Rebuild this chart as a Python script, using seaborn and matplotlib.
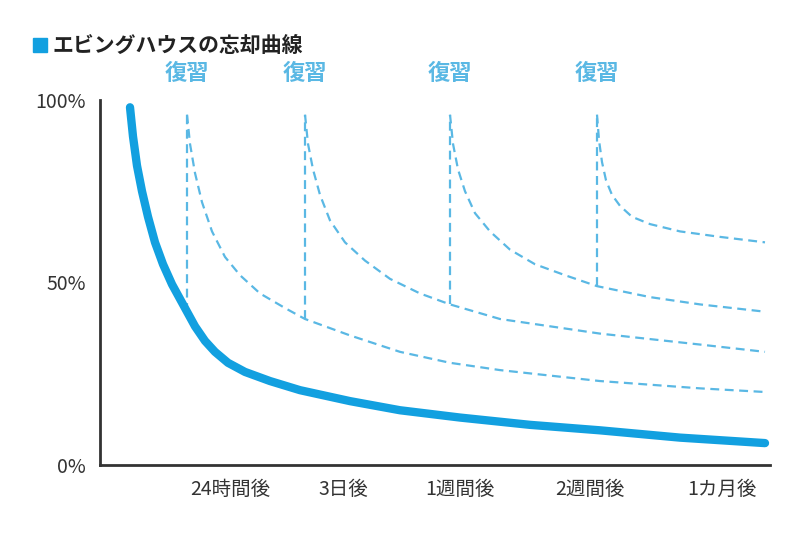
import matplotlib
matplotlib.use("Agg")
import matplotlib.pyplot as plt
import seaborn as sns

plt.rcParams["font.family"] = "Noto Sans CJK JP"

title = "エビングハウスの忘却曲線"
y_ticks = [0, 50, 100]
y_labels = ["0%", "50%", "100%"]
x_ticks = [230, 343, 460, 590, 722]
x_labels = ["24時間後", "3日後", "1週間後", "2週間後", "1カ月後"]

main_x = [130, 133, 137, 142, 148, 155, 163, 172, 180, 187, 195, 205, 215, 228, 245, 270, 300, 350, 400, 460, 530, 600, 680, 765]
main_y = [98, 90, 82, 75, 68, 61, 55, 49.5, 45.5, 42, 38, 34, 31, 28, 25.5, 23, 20.5, 17.5, 15, 13, 11, 9.5, 7.5, 6]

review_x = [187, 305, 450, 597]
review_base = [42, 40, 44, 49]
review_top = 96

c1_x = [187, 190, 195, 202, 212, 225, 240, 260, 285, 305, 350, 400, 450, 500, 600, 700, 765]
c1_y = [96, 88, 80, 72, 64, 57, 52, 47, 43, 40, 35.5, 31, 28, 26, 23, 21, 20]
c2_x = [305, 308, 313, 320, 330, 345, 365, 390, 420, 450, 500, 550, 600, 700, 765]
c2_y = [96, 88, 81, 74, 67, 61, 56, 51, 47, 44, 40, 38, 36, 33, 31]
c3_x = [450, 453, 458, 465, 475, 490, 510, 535, 565, 597, 650, 700, 765]
c3_y = [96, 88, 81, 75, 69, 64, 59, 55, 52, 49, 46, 44, 42]
c4_x = [597, 599, 602, 606, 612, 620, 632, 650, 680, 720, 765]
c4_y = [96, 89, 83, 78, 74, 71, 68, 66, 64, 62.5, 61]

main_color = "#12a0e0"
light = "#5ab8e4"

fig = plt.figure(figsize=(8, 5.38), dpi=100)
ax = fig.add_axes([100/800, 73/538, 670/800, 365/538])
ax.set_xlim(100, 770)
ax.set_ylim(0, 100)

for cx, cy in [(c1_x, c1_y), (c2_x, c2_y), (c3_x, c3_y), (c4_x, c4_y)]:
    sns.lineplot(x=cx, y=cy, ax=ax, sort=False, estimator=None,
                 color=light, lw=1.6, linestyle=(0, (4, 2.5)))
for rx, rb in zip(review_x, review_base):
    ax.plot([rx, rx], [rb, review_top], color=light, lw=1.6, linestyle=(0, (4, 2.5)))
    ax.text(rx, 104, "復習", ha="center", va="bottom", color=light,
            fontsize=16, fontweight="bold", clip_on=False)

sns.lineplot(x=main_x, y=main_y, ax=ax, sort=False, estimator=None,
             color=main_color, lw=6, solid_capstyle="round", solid_joinstyle="round")

ax.set_yticks(y_ticks)
ax.set_yticklabels(y_labels, fontsize=14, color="#333333")
ax.set_xticks(x_ticks)
ax.set_xticklabels(x_labels, fontsize=14, color="#333333")
ax.tick_params(length=0, pad=10)
for s in ["top", "right"]:
    ax.spines[s].set_visible(False)
for s in ["left", "bottom"]:
    ax.spines[s].set_color("#333333")
    ax.spines[s].set_linewidth(2)
ax.set_xlabel("")
ax.set_ylabel("")

fig.patches.append(plt.Rectangle((33/800, 1-52/538), 14/800, 14/538,
                                 transform=fig.transFigure, color=main_color))
fig.text(52/800, 1-45/538, title, fontsize=15, fontweight="bold",
         color="#222222", va="center")

fig.savefig("out.png", dpi=100)
